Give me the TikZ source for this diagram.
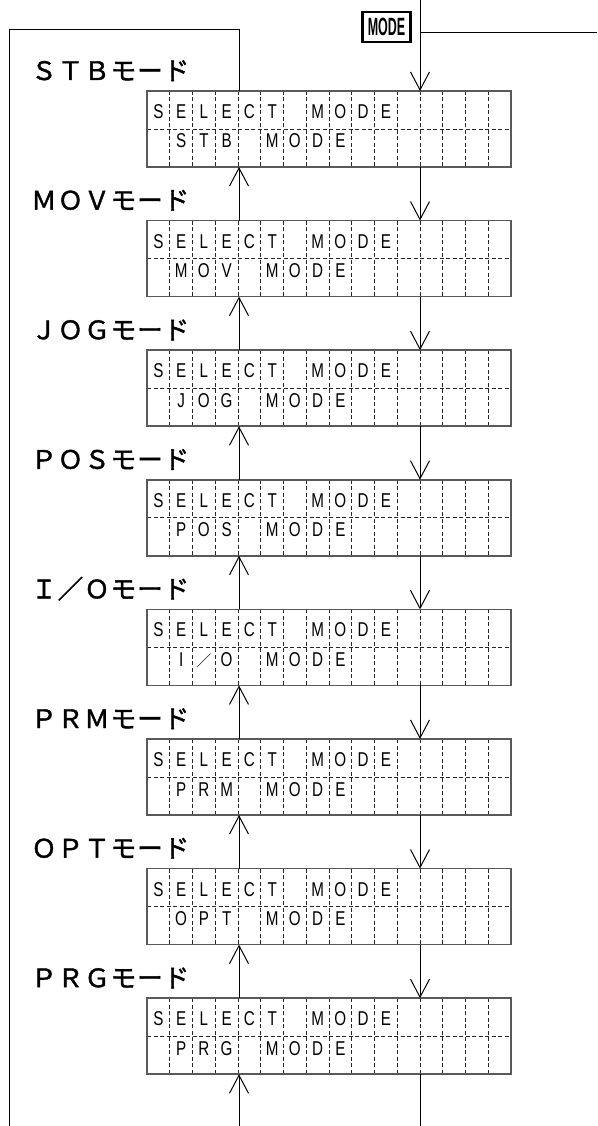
\documentclass[tikz,border=0pt]{standalone}
\usepackage{fontspec}
\usepackage{graphicx}
\usetikzlibrary{arrows.meta}
\newfontfamily\jpfont[FakeBold=1.6,LetterSpace=4]{Noto Sans CJK JP}
\newfontfamily\slashfont{Noto Sans CJK JP}
\newfontfamily\lcdfont[FakeStretch=0.76]{Liberation Sans}
\newfontfamily\modefont[FakeStretch=0.5]{Liberation Sans Bold}
\begin{document}
\begin{tikzpicture}[x=1pt,y=-1pt,
  conn/.style={line width=1pt,black},
  arr/.style={conn,-{Straight Barb[length=18pt,width=19pt,line width=1pt]}},
  lcdbox/.style={draw=black!65,line width=1.6pt,minimum width=364pt,minimum height=76pt,inner sep=0pt,outer sep=0pt,anchor=north west},
  gridline/.style={line width=0.8pt,black!85,dash pattern=on 4pt off 2.5pt},
  lcdchar/.style={font=\lcdfont\fontsize{20}{20}\selectfont,anchor=base,inner sep=0pt},
  lab/.style={font=\jpfont\fontsize{25.5}{25.5}\selectfont,anchor=base west,inner sep=0pt},
  modekey/.style={draw=black,line width=2.2pt,minimum width=48pt,minimum height=30pt,inner sep=0pt,font=\modefont\fontsize{25}{25}\selectfont}
]
\useasboundingbox (0,0) rectangle (597,1126);
% LCD boxes
\foreach \i/\a/\b/\c/\lab in {0/S/T/B/ＳＴＢ,1/M/O/V/ＭＯＶ,2/J/O/G/ＪＯＧ,3/P/O/S/ＰＯＳ,4/I/{\slashfont\fontsize{15}{15}\selectfont ／}/O/Ｉ／Ｏ,5/P/R/M/ＰＲＭ,6/O/P/T/ＯＰＴ,7/P/R/G/ＰＲＧ}{
  \pgfmathsetmacro{\top}{91+129.6*\i}
  \node[lcdbox] (lcd\i) at (147,\top) {};
  \foreach \k in {1,...,15}{
    \draw[gridline] ([xshift=\k*22.75pt]lcd\i.north west) -- ([xshift=\k*22.75pt]lcd\i.south west);
  }
  \draw[gridline] (lcd\i.west) -- (lcd\i.east);
  \draw[draw=black!65,line width=1.6pt] (lcd\i.north west) rectangle (lcd\i.south east);
  \foreach \k/\ch in {0/S,1/E,2/L,3/E,4/C,5/T,7/M,8/O,9/D,10/E}{
    \node[lcdchar] (r\i a\k) at (147+22.75*\k+11.4,\top+27.5) {\ch};
  }
  \node[lcdchar] (r\i b1) at (147+22.75*1+11.4,\top+57) {\a};
  \node[lcdchar] (r\i b2) at (147+22.75*2+11.4,\top+57) {\b};
  \node[lcdchar] (r\i b3) at (147+22.75*3+11.4,\top+57) {\c};
  \foreach \k/\ch in {5/M,6/O,7/D,8/E}{
    \node[lcdchar] (r\i b\k) at (147+22.75*\k+11.4,\top+57) {\ch};
  }
  \node[lab] (lab\i) at (31,\top-11) {\lab モード};
}
% connectors between boxes
\foreach \i [evaluate=\i as \j using int(\i+1)] in {0,...,6}{
  \draw[arr] ([xshift=92pt]lcd\j.north west) -- ([xshift=92pt]lcd\i.south west);
  \draw[arr] ([xshift=273pt]lcd\i.south west) -- ([xshift=273pt]lcd\j.north west);
}
% outer loop on the left
\coordinate (lb) at (9,1126);
\coordinate (lt) at (9,30);
\coordinate (rt) at (239,30);
\draw[conn] (lb) -- (lt) -- (rt) -- ([xshift=92pt]lcd0.north west);
\coordinate (ub) at (239,1126);
\draw[arr] (ub) -- ([xshift=92pt]lcd7.south west);
% right side
\coordinate (dt) at (420,0);
\draw[arr] (dt) -- ([xshift=273pt]lcd0.north west);
\coordinate (db) at (420,1126);
\draw[conn] ([xshift=273pt]lcd7.south west) -- (db);
\coordinate (hl) at (420,33);
\coordinate (hr) at (597,33);
\draw[conn] (hl) -- (hr);
\node[modekey] (mode) at (386.5,27) {\raisebox{-1pt}{MODE}};
\end{tikzpicture}
\end{document}
